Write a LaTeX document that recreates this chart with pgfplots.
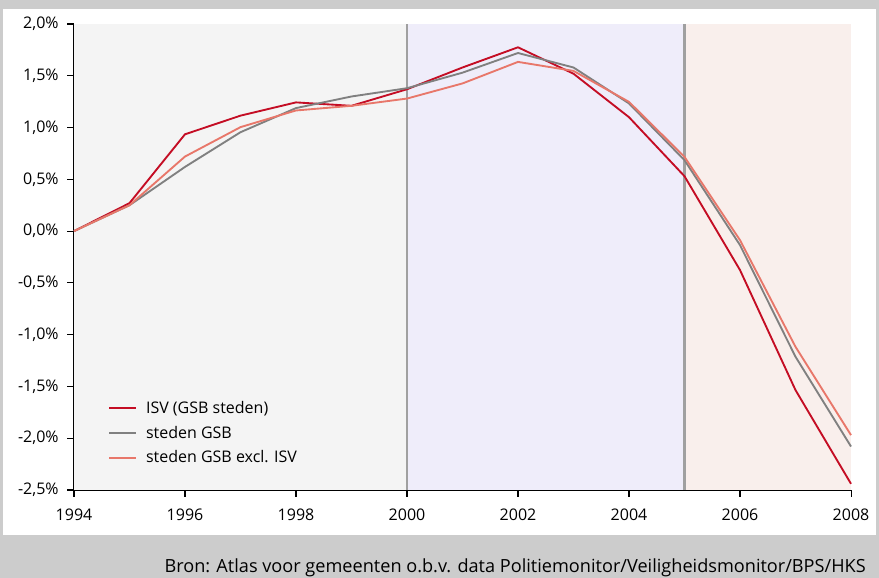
\documentclass[border=0pt]{standalone}
\usepackage{fontspec}
\setmainfont{Open Sans}
\usepackage{pgfplots}
\pgfplotsset{compat=1.18}
\definecolor{frame}{HTML}{CCCCCC}
\definecolor{bgA}{HTML}{F4F4F4}
\definecolor{bgB}{HTML}{EFEDFA}
\definecolor{bgC}{HTML}{F9EFEC}
\definecolor{sep}{HTML}{A0A0A0}
\definecolor{isv}{HTML}{C40D24}
\definecolor{gsb}{HTML}{808080}
\definecolor{excl}{HTML}{E8776A}
\begin{document}
\begin{tikzpicture}
\fill[frame] (0,0) rectangle (659.25pt,433.5pt);
\useasboundingbox (0,0) rectangle (659.25pt,433.5pt);
\fill[white] (2.25pt,32.25pt) rectangle (657pt,426.75pt);
\node[anchor=base east, font=\fontsize{13.6}{16}\selectfont, inner sep=0pt] at (649.5pt,4pt) {Bron: Atlas voor gemeenten o.b.v. data Politiemonitor/Veiligheidsmonitor/BPS/HKS};
\begin{axis}[
  at={(55.5pt,66pt)}, anchor=south west,
  scale only axis, width=582.75pt, height=349.5pt,
  xmin=1994, xmax=2008, ymin=-2.5, ymax=2.0,
  axis x line*=bottom, axis y line*=left,
  axis line style={black, line width=0.8pt},
  tick style={black, line width=0.8pt},
  tick align=outside, major tick length=5pt,
  xtick={1994,1996,...,2008},
  ytick={-2.5,-2,...,2},
  font=\fontsize{12}{14.4}\selectfont,
  /pgf/number format/assume math mode=true,
  xticklabel style={/pgf/number format/1000 sep=, yshift=-6pt},
  yticklabel style={xshift=-3pt},
  yticklabel={\pgfmathprintnumber[fixed,fixed zerofill,precision=1,use comma]{\tick}\%},
  legend style={at={(rel axis cs:0.0438,0.197)}, anchor=north west, draw=none, fill=none,
    font=\fontsize{12}{14.4}\selectfont, row sep=4pt, inner sep=0pt,
    /tikz/every odd column/.append style={column sep=5pt}},
  legend cell align=left,
  legend image code/.code={\draw[mark repeat=2,mark phase=2,#1] plot coordinates {(0cm,0cm) (0.35cm,0cm) (0.7cm,0cm)};},
  clip=false,
]
\fill[bgA] (axis cs:1994,-2.5) rectangle (axis cs:2000,2.0);
\fill[bgB] (axis cs:2000,-2.5) rectangle (axis cs:2005,2.0);
\fill[bgC] (axis cs:2005,-2.5) rectangle (axis cs:2008,2.0);
\draw[sep, line width=1.8pt] (axis cs:2000,-2.5) -- (axis cs:2000,2.0);
\draw[sep, line width=1.8pt] (axis cs:2005,-2.5) -- (axis cs:2005,2.0);
\addplot[isv, line width=1.4pt] coordinates {
(1994,0) (1995,0.27) (1996,0.935) (1997,1.115) (1998,1.243) (1999,1.21) (2000,1.37)
(2001,1.58) (2002,1.775) (2003,1.52) (2004,1.10) (2005,0.53) (2006,-0.376) (2007,-1.535) (2008,-2.44)};
\addlegendentry{ISV (GSB steden)}
\addplot[gsb, line width=1.4pt] coordinates {
(1994,0) (1995,0.25) (1996,0.62) (1997,0.955) (1998,1.188) (1999,1.30) (2000,1.38)
(2001,1.53) (2002,1.72) (2003,1.58) (2004,1.233) (2005,0.685) (2006,-0.135) (2007,-1.213) (2008,-2.08)};
\addlegendentry{steden GSB}
\addplot[excl, line width=1.4pt] coordinates {
(1994,0) (1995,0.25) (1996,0.72) (1997,1.004) (1998,1.165) (1999,1.21) (2000,1.28)
(2001,1.426) (2002,1.634) (2003,1.547) (2004,1.248) (2005,0.717) (2006,-0.087) (2007,-1.117) (2008,-1.97)};
\addlegendentry{steden GSB excl. ISV}
\end{axis}
\end{tikzpicture}
\end{document}
